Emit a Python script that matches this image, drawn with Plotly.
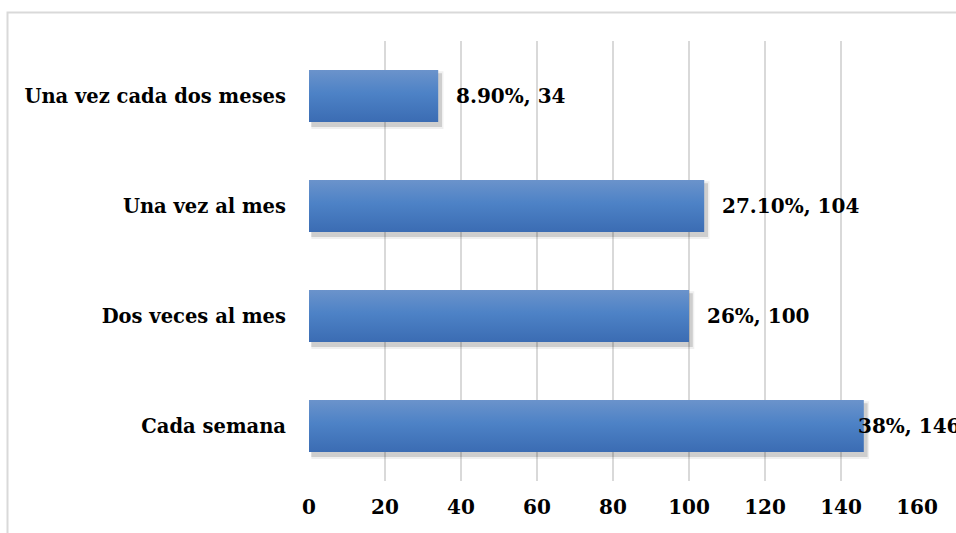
import plotly.graph_objects as go

# Frequency categories (bottom to top) and their counts / shares
categories = ["Cada semana", "Dos veces al mes", "Una vez al mes", "Una vez cada dos meses"]
counts = [146, 100, 104, 34]
shares = ["38%", "26%", "27.10%", "8.90%"]
x_ticks = [0, 20, 40, 60, 80, 100, 120, 140, 160]

# label offsets in pixels from the bar end (last bar's label sits on the bar edge)
label_shift = [-8, 16, 16, 16]

FONT = "DejaVu Serif"
HALF = 0.236  # half bar thickness in category units

fig = go.Figure()

positions = list(range(len(categories)))

# soft drop shadows behind each bar
for pos, val in zip(positions, counts):
    for grow, alpha in [(0.02, 0.06), (0.0, 0.14)]:
        y0 = pos - HALF - 0.045 - grow
        y1 = pos + HALF - 0.03 + grow
        x0 = 0.6
        x1 = val + 1.0 + grow * 20
        fig.add_trace(go.Scatter(
            x=[x0, x1, x1, x0, x0], y=[y0, y0, y1, y1, y0],
            mode="lines", fill="toself", line=dict(width=0),
            fillcolor=f"rgba(0,0,0,{alpha})", hoverinfo="skip", showlegend=False,
        ))

# gradient-filled bars
for pos, val in zip(positions, counts):
    y0, y1 = pos - HALF, pos + HALF
    fig.add_trace(go.Scatter(
        x=[0, val, val, 0, 0], y=[y0, y0, y1, y1, y0],
        mode="lines", fill="toself", line=dict(width=0),
        fillgradient=dict(
            type="vertical", start=y1, stop=y0,
            colorscale=[[0, "#6b93cb"], [0.45, "#4d82c6"], [1, "#3b6cb3"]],
        ),
        hoverinfo="skip", showlegend=False,
    ))

# value labels
for pos, val, pct, dx in zip(positions, counts, shares, label_shift):
    fig.add_annotation(
        x=val, y=pos, text=f"<b>{pct}, {val}</b>", showarrow=False,
        xanchor="left", yanchor="middle", xshift=dx,
        font=dict(family=FONT, size=20, color="#000000"),
    )

# outer chart frame
fig.add_shape(
    type="rect", xref="paper", yref="paper",
    x0=(7.5 - 309) / 608, x1=(970 - 309) / 608,
    y0=(481 - 560) / 440, y1=(481 - 12.5) / 440,
    line=dict(color="#d9d9d9", width=2), fillcolor="rgba(0,0,0,0)", layer="below",
)

fig.update_layout(
    width=956, height=533,
    margin=dict(l=309, r=39, t=41, b=52),
    paper_bgcolor="white", plot_bgcolor="white",
    showlegend=False,
    xaxis=dict(
        range=[0, 160], tickvals=x_ticks,
        ticktext=[f"<b>{t}</b>" for t in x_ticks],
        showgrid=True, gridcolor="#d9d9d9", gridwidth=2,
        zeroline=False, showline=False, ticks="",
        ticklabelstandoff=12,
        tickfont=dict(family=FONT, size=20, color="#000000"),
        fixedrange=True,
    ),
    yaxis=dict(
        range=[-0.5, 3.5], tickvals=positions,
        ticktext=[f"<b>{c}</b>" for c in categories],
        showgrid=False, zeroline=False, showline=False, ticks="",
        ticklabelstandoff=22,
        tickfont=dict(family=FONT, size=19.5, color="#000000"),
        fixedrange=True,
    ),
)

fig.update_traces(cliponaxis=False)

fig.write_html("out.html")
